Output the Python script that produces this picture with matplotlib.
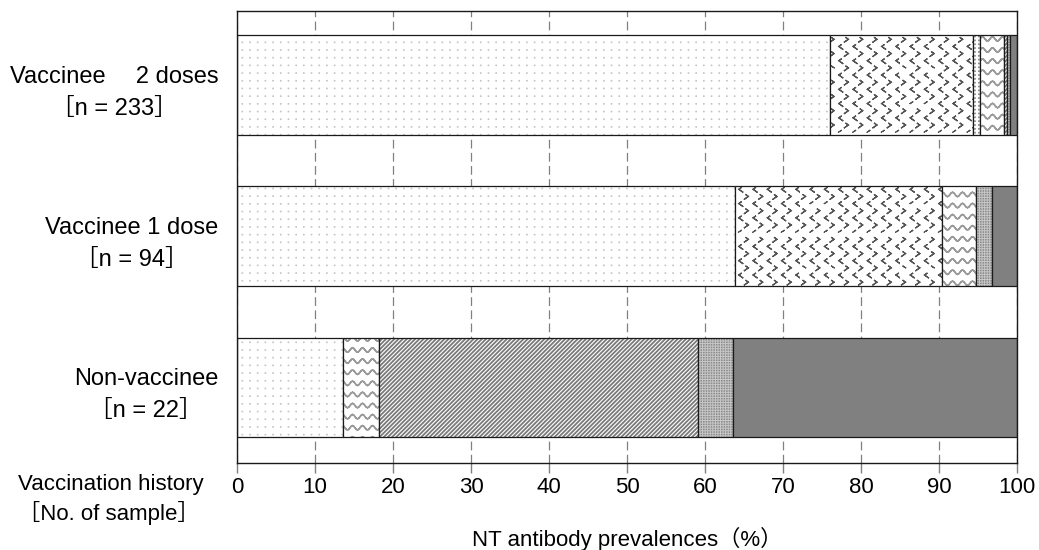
import warnings
import numpy as np
import matplotlib
matplotlib.use('Agg')
import matplotlib.pyplot as plt
from matplotlib import hatch as mhatch
from matplotlib.path import Path

warnings.filterwarnings('ignore')

groups = ['Vaccinee\u3000 2 doses\n［n = 233］',
          'Vaccinee 1 dose\n［n = 94］',
          'Non-vaccinee\n［n = 22］']
n_total = [233, 94, 22]

# samples per NT titre band, lowest band first
band_a = [177, 60, 3]
band_b = [43, 25, 0]
band_c = [2, 0, 0]
band_d = [7, 4, 1]
band_e = [1, 0, 9]
band_f = [1, 2, 1]
band_g = [2, 3, 8]

xticks = [0, 10, 20, 30, 40, 50, 60, 70, 80, 90, 100]


# extra hatch patterns: waves '~', chevrons 'v', grid dots ':'
class Waves(mhatch.HatchPatternBase):
    def __init__(self, hatch, density):
        self.rows = hatch.count('~') * 9
        self.x = np.linspace(0, 1, 81)
        self.num_vertices = self.rows * (2 * len(self.x) - 1)

    def set_vertices_and_codes(self, vertices, codes):
        k = 0
        for i in range(self.rows):
            yy = (i + 0.5) / self.rows + 0.022 * np.sin(20 * np.pi * self.x)
            xs = np.r_[self.x, self.x[-2::-1]]
            ys = np.r_[yy, yy[-2::-1]]
            m = len(xs)
            vertices[k:k + m] = np.c_[xs, ys]
            codes[k] = Path.MOVETO
            codes[k + 1:k + m] = Path.LINETO
            k += m


class Chevrons(mhatch.HatchPatternBase):
    def __init__(self, hatch, density):
        n = hatch.count('v')
        self.cols, self.rows = 7 * n, 14 * n
        self.num_vertices = self.cols * self.rows * 5

    def set_vertices_and_codes(self, vertices, codes):
        w, h = 0.012, 0.017
        k = 0
        for r in range(self.rows):
            yy = (r + 0.5) / self.rows
            d = 1 if r % 2 == 0 else -1
            off = 0.3 if r % 2 == 0 else 0.8
            for c in range(self.cols):
                xx = (c + off) / self.cols
                vertices[k:k + 5] = [(xx - d * w, yy + h), (xx + d * w, yy),
                                     (xx - d * w, yy - h), (xx + d * w, yy),
                                     (xx - d * w, yy + h)]
                codes[k] = Path.MOVETO
                codes[k + 1:k + 5] = Path.LINETO
                k += 5


class GridDots(mhatch.HatchPatternBase):
    def __init__(self, hatch, density):
        self.n = hatch.count(':') * 13
        self.num_vertices = self.n * self.n * 5

    def set_vertices_and_codes(self, vertices, codes):
        s = 0.002
        k = 0
        for i in range(self.n):
            for j in range(self.n):
                xx = (i + 0.5) / self.n
                yy = (j + 0.5) / self.n
                vertices[k:k + 5] = [(xx - s, yy - s), (xx + s, yy - s),
                                     (xx + s, yy + s), (xx - s, yy + s),
                                     (xx - s, yy - s)]
                codes[k] = Path.MOVETO
                codes[k + 1:k + 4] = Path.LINETO
                codes[k + 4] = Path.CLOSEPOLY
                k += 5


mhatch._hatch_types.extend([Waves, Chevrons, GridDots])
mhatch._validate_hatch_pattern = lambda h: None

plt.rcParams['font.family'] = ['Liberation Sans', 'Noto Sans CJK JP']
plt.rcParams['hatch.linewidth'] = 1.0

# face, hatch, hatch colour, hatch linewidth
styles = [
    ('white', ':', '#c4c4c4', 0.9),
    ('white', 'v', '#555555', 0.9),
    ('white', '::', '#8a8a8a', 0.9),
    ('white', '~', '#9a9a9a', 1.1),
    ('white', '////////', '#7a7a7a', 1.3),
    ('#c8c8c8', ':::', '#8a8a8a', 0.8),
    ('#808080', None, '#808080', 1.0),
]

fig, ax = plt.subplots(figsize=(10.39, 5.5), dpi=100)
fig.subplots_adjust(left=237 / 1039, right=1017 / 1039,
                    top=1 - 11 / 550, bottom=1 - 463 / 550)

bands = [band_a, band_b, band_c, band_d, band_e, band_f, band_g]
y = np.arange(len(groups))
left = np.zeros(len(groups))
for band, (face, hat, hc, hlw) in zip(bands, styles):
    pct = np.array(band) / np.array(n_total) * 100
    for i in range(len(groups)):
        if band[i] == 0:
            continue
        b = ax.barh(y[i], pct[i], left=left[i], height=0.66, color=face,
                    hatch=hat, edgecolor=hc, linewidth=0)
        if hasattr(b[0], 'set_hatch_linewidth'):
            b[0].set_hatch_linewidth(hlw)
        ax.barh(y[i], pct[i], left=left[i], height=0.66, fill=False,
                edgecolor='#1a1a1a', linewidth=0.9)
    left += pct

ax.set_xlim(0, 100)
ax.set_ylim(2.5, -0.49)
ax.set_xticks(xticks)
ax.set_xticklabels([str(t) for t in xticks], fontsize=16)
ax.set_yticks(y)
ax.set_yticklabels(groups, fontsize=17)
for lab in ax.get_yticklabels():
    lab.set_multialignment('center')
    lab.set_linespacing(1.6)
ax.tick_params(axis='y', length=0, pad=13.5)
ax.tick_params(axis='x', length=7, width=1, color='#808080', pad=3)

ax.grid(axis='x', color='#808080', linestyle=(0, (7, 3.5)), linewidth=0.9)
ax.set_axisbelow(True)
for sp in ax.spines.values():
    sp.set_color('#1a1a1a')
    sp.set_linewidth(1.0)

ax.set_xlabel('NT antibody prevalences（%）', fontsize=16, labelpad=21)
fig.text(18 / 1039, 1 - 499.5 / 550, 'Vaccination history\n［No. of sample］',
         ha='left', va='center', fontsize=16, linespacing=1.3)

plt.savefig('out.png', dpi=100)
